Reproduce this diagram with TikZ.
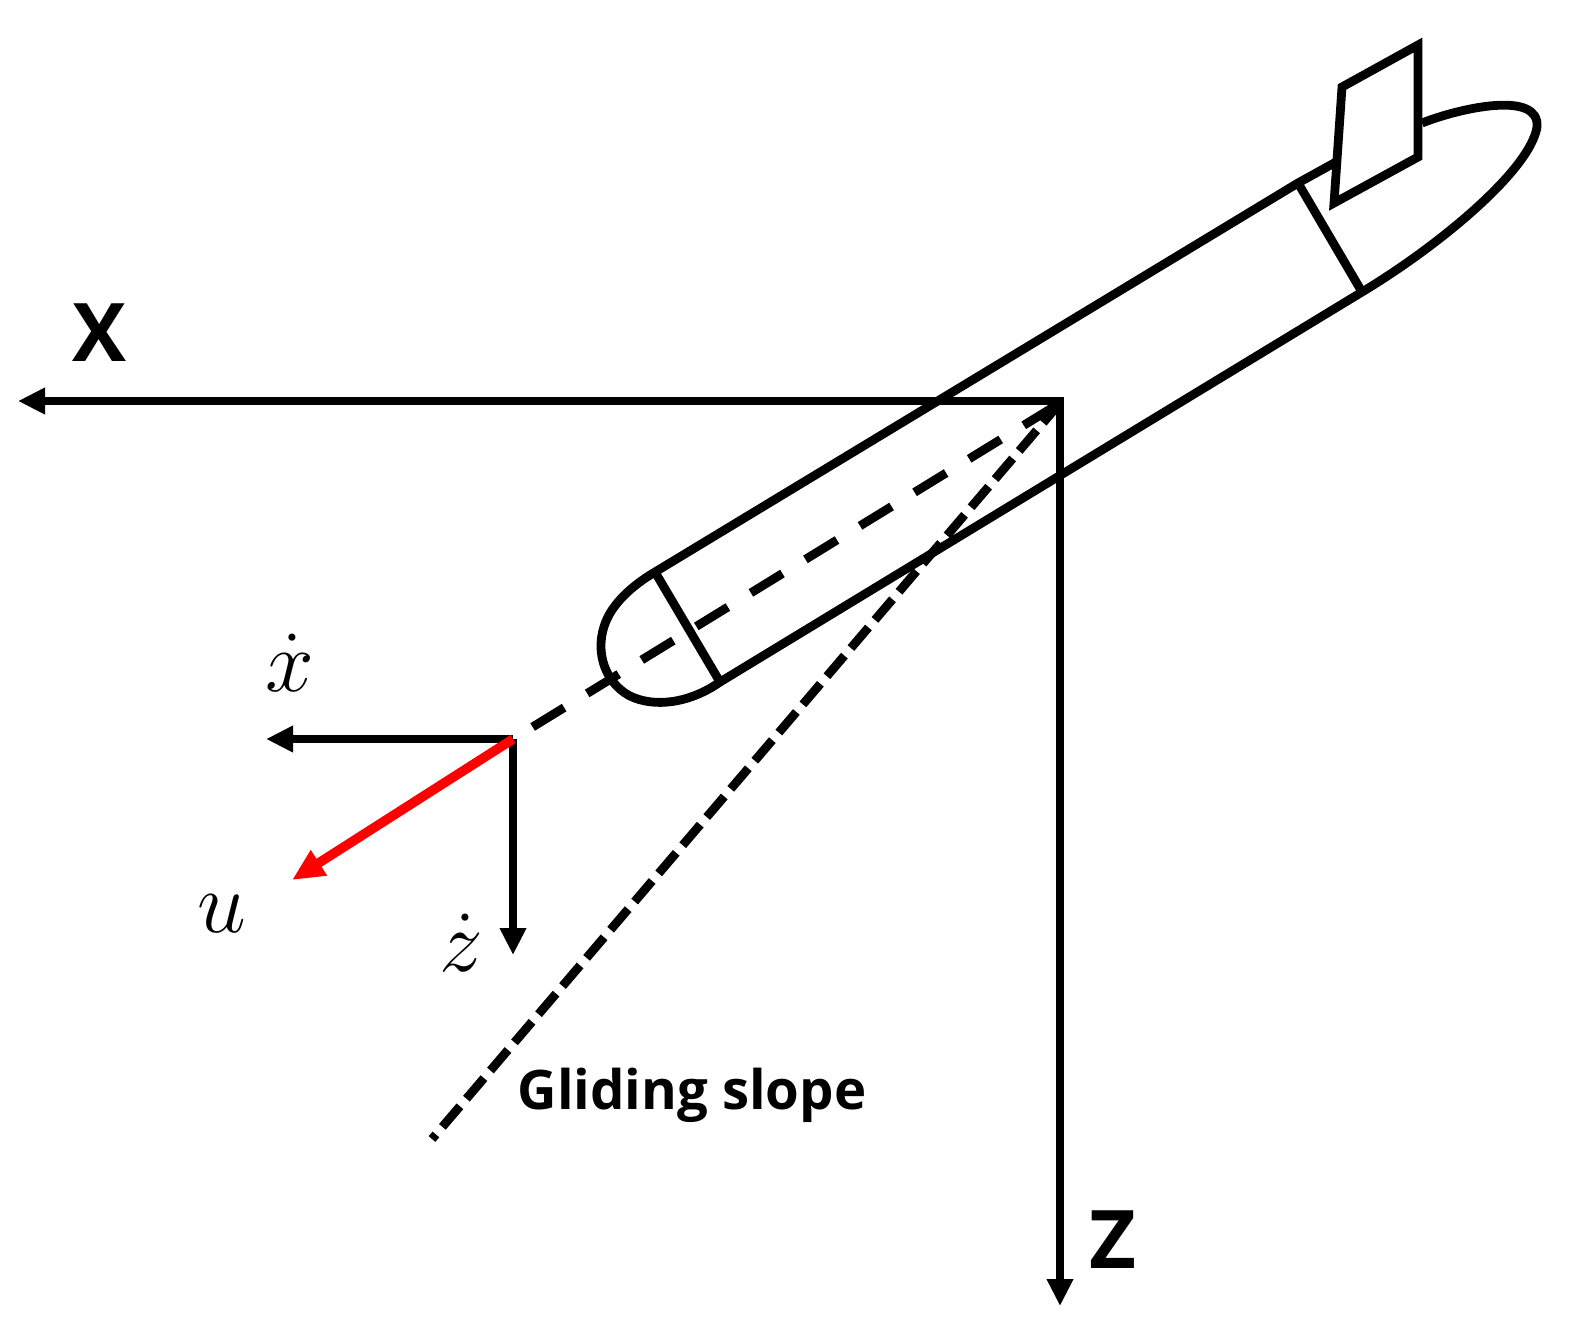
\documentclass[tikz,border=0pt]{standalone}
\usepackage{amsmath}
\usepackage{fontspec}
\setmainfont{Open Sans}
\usepackage{tikz}
\usetikzlibrary{arrows.meta}

\tikzset{
  axisline/.style={line width=2.4pt,-{Triangle[length=2.7mm,width=2.5mm]}},
  hull/.style={line width=2.5pt,line join=miter},
  bold label/.style={font=\fontsize{23}{23}\selectfont\bfseries,inner sep=0pt},
  math label/.style={font=\fontsize{27}{27}\selectfont,inner sep=0pt}
}

\begin{document}
\begin{tikzpicture}[x=0.01cm,y=-0.01cm]
  \useasboundingbox (0,0) rectangle (1580,1336);

  \coordinate (O) at (1060,403);
  \coordinate (Xend) at (18,401);
  \coordinate (Zend) at (1060,1306);
  \coordinate (v) at (513,739);
  \coordinate (vx) at (266,739);
  \coordinate (vz) at (513,955);
  \coordinate (vu) at (292,880);
  \coordinate (slope) at (432,1139);

  \coordinate (top1) at (655,572);
  \coordinate (top2) at (1298,183);
  \coordinate (bot1) at (720,682);
  \coordinate (bot2) at (1362,292);

  % body
  \draw[hull] (bot2) -- (bot1)
    .. controls (690,703) and (655,708) .. (630,696)
    .. controls (600,680) and (592,640) .. (612,610)
    .. controls (622,595) and (638,582) .. (top1)
    -- (top2) -- (1345,157);
  \draw[hull] (1422,123)
    .. controls (1460,108) and (1540,90) .. (1537,127)
    .. controls (1530,170) and (1440,245) .. (bot2);
  \draw[hull] (top1) -- (bot1);
  \draw[hull] (top2) -- (bot2);
  \draw[hull,fill=white] (1342,87) -- (1418,45) -- (1418,157) -- (1334,203) -- cycle;

  % axes
  \draw[axisline] (1064,401) -- (Xend);
  \draw[axisline] (O) -- (Zend);
  \draw[axisline] (v) -- (vx);
  \draw[axisline] (v) -- (vz);
  \draw[axisline,red,line width=2.7pt,-{Triangle[length=3.2mm,width=2.8mm]}] (v) -- (vu);

  \draw[hull,dash pattern=on 0.37cm off 0.27cm,dash phase=0.41cm] (v) -- (O);
  \draw[hull,dash pattern=on 0.27cm off 0.10cm,dash phase=0.21cm] (slope) -- (O);

  \node[bold label] (Xlabel) at (99,333) {X};
  \node[bold label] (Zlabel) at (1113,1240) {Z};
  \node[math label] (xdot) at (290,663) {$\dot{x}$};
  \node[math label] (zdot) at (461,943) {$\dot{z}$};
  \node[math label] (ulabel) at (222,914) {$u$};
  \node[inner sep=0pt,font=\fontsize{15.5}{15.5}\selectfont\bfseries] (gliding) at (692,1095) {Gliding slope};
\end{tikzpicture}
\end{document}
